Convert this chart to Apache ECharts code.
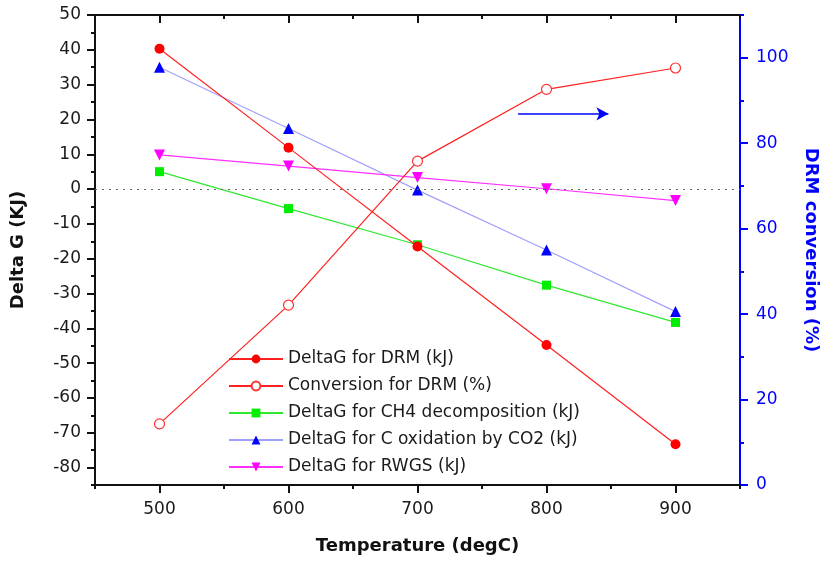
<!DOCTYPE html>
<html>
<head>
<meta charset="utf-8">
<script src="https://cdn.jsdelivr.net/npm/echarts@6/dist/echarts.min.js"></script>
<style>
  html, body { margin: 0; padding: 0; background: #fff; }
  #chart { width: 822px; height: 563px; }
</style>
</head>
<body>
<div id="chart"></div>
<script>
// Temperature points (degC)
const temperatures = [500, 600, 700, 800, 900];

// Gibbs free energy change (kJ), left axis
const deltaGDRM = [40.3, 11.9, -16.5, -44.8, -73.3];
const deltaGCH4 = [5.0, -5.6, -16.0, -27.6, -38.3];
const deltaGCOx = [35.0, 17.4, -0.3, -17.5, -35.2];
const deltaGRWGS = [9.8, 6.6, 3.3, 0.1, -3.3];

// DRM conversion (%), right axis
const conversionDRM = [14.3, 42.1, 75.8, 92.6, 97.6];

// Tick positions
const xMajorTicks = [500, 600, 700, 800, 900];
const xMinorTicks = [450, 550, 650, 750, 850, 950];
const leftMajorTicks = [-80, -70, -60, -50, -40, -30, -20, -10, 0, 10, 20, 30, 40, 50];
const leftMinorTicks = [-85, -75, -65, -55, -45, -35, -25, -15, -5, 5, 15, 25, 35, 45];
const rightMajorTicks = [0, 20, 40, 60, 80, 100];
const rightMinorTicks = [10, 30, 50, 70, 90, 110];

// Arrow pointing to the conversion axis
const arrowY = 21.6;
const arrowFrom = 778;
const arrowTo = 848;

const pair = (ys) => temperatures.map((t, i) => [t, ys[i]]);

const FONT = 'DejaVu Sans';
const BLACK = '#111';
const LABEL = '#1a1a1a';
const BLUE = '#0000ff';

const chart = echarts.init(document.getElementById('chart'), null, { renderer: 'canvas' });

const baseX = { type: 'value', min: 450, max: 950, splitLine: { show: false } };
const leftY = { type: 'value', min: -85, max: 50, splitLine: { show: false } };
const rightY = { type: 'value', min: 0, max: 110, splitLine: { show: false } };

chart.setOption({
  animation: false,
  backgroundColor: '#fff',
  grid: { left: 95, right: 82, top: 15, bottom: 78, containLabel: false, outerBoundsMode: 'none' },
  xAxis: [
    Object.assign({}, baseX, {
      position: 'bottom',
      name: 'Temperature (degC)',
      nameLocation: 'middle',
      nameGap: 52,
      nameTextStyle: { fontFamily: FONT, fontSize: 18, fontWeight: 'bold', color: BLACK },
      axisLine: { onZero: false, lineStyle: { color: BLACK, width: 2 } },
      axisTick: { inside: false, length: 8, lineStyle: { color: BLACK, width: 2 }, customValues: xMajorTicks },
      axisLabel: { customValues: xMajorTicks, margin: 16, fontFamily: FONT, fontSize: 17, color: LABEL }
    }),
    Object.assign({}, baseX, {
      position: 'bottom',
      axisLine: { show: false, onZero: false },
      axisTick: { inside: false, length: 4, lineStyle: { color: BLACK, width: 2 }, customValues: xMinorTicks },
      axisLabel: { show: false }
    }),
    Object.assign({}, baseX, {
      position: 'top',
      axisLine: { onZero: false, lineStyle: { color: BLACK, width: 2 } },
      axisTick: { inside: true, length: 8, lineStyle: { color: BLACK, width: 2 }, customValues: xMajorTicks },
      axisLabel: { show: false }
    }),
    Object.assign({}, baseX, {
      position: 'top',
      axisLine: { show: false, onZero: false },
      axisTick: { inside: true, length: 4, lineStyle: { color: BLACK, width: 2 }, customValues: xMinorTicks },
      axisLabel: { show: false }
    })
  ],
  yAxis: [
    Object.assign({}, leftY, {
      position: 'left',
      name: 'Delta G (KJ)',
      nameLocation: 'middle',
      nameGap: 68,
      nameRotate: 90,
      nameTextStyle: { fontFamily: FONT, fontSize: 18, fontWeight: 'bold', color: BLACK },
      axisLine: { show: true, onZero: false, lineStyle: { color: BLACK, width: 2 } },
      axisTick: { show: true, inside: false, length: 8, lineStyle: { color: BLACK, width: 2 }, customValues: leftMajorTicks },
      axisLabel: { customValues: leftMajorTicks, margin: 14, fontFamily: FONT, fontSize: 17, color: LABEL }
    }),
    Object.assign({}, leftY, {
      position: 'left',
      axisLine: { show: false, onZero: false },
      axisTick: { show: true, inside: false, length: 4, lineStyle: { color: BLACK, width: 2 }, customValues: leftMinorTicks },
      axisLabel: { show: false }
    }),
    Object.assign({}, rightY, {
      position: 'right',
      name: 'DRM conversion (%)',
      nameLocation: 'middle',
      nameGap: 62,
      nameRotate: -90,
      nameTextStyle: { fontFamily: FONT, fontSize: 18, fontWeight: 'bold', color: BLUE },
      axisLine: { show: true, onZero: false, lineStyle: { color: BLUE, width: 2 } },
      axisTick: { show: true, inside: false, length: 8, lineStyle: { color: BLUE, width: 2 }, customValues: rightMajorTicks },
      axisLabel: { customValues: rightMajorTicks, margin: 16, fontFamily: FONT, fontSize: 17, color: BLUE }
    }),
    Object.assign({}, rightY, {
      position: 'right',
      axisLine: { show: false, onZero: false },
      axisTick: { show: true, inside: false, length: 4, lineStyle: { color: BLUE, width: 2 }, customValues: rightMinorTicks },
      axisLabel: { show: false }
    })
  ],
  legend: {
    orient: 'vertical',
    left: 223,
    top: 344,
    itemWidth: 54,
    itemHeight: 11,
    itemGap: 7,
    textStyle: { fontFamily: FONT, fontSize: 17, color: LABEL, lineHeight: 20 },
    data: [
      'DeltaG for DRM (kJ)',
      'Conversion for DRM (%)',
      'DeltaG for CH4 decomposition (kJ)',
      'DeltaG for C oxidation by CO2 (kJ)',
      'DeltaG for RWGS (kJ)'
    ]
  },
  series: [
    {
      name: 'DeltaG for DRM (kJ)',
      type: 'line',
      xAxisIndex: 0, yAxisIndex: 0,
      data: pair(deltaGDRM),
      symbol: 'circle', symbolSize: 10,
      lineStyle: { color: '#ff2020', width: 1.2 },
      itemStyle: { color: '#ff0000' },
      z: 5,
      markLine: {
        silent: true,
        symbol: ['none', 'arrow'],
        symbolSize: [10, 12],
        label: { show: false },
        lineStyle: { color: BLUE, width: 1.5, type: 'solid' },
        data: [[{ coord: [arrowFrom, arrowY] }, { coord: [arrowTo, arrowY] }]]
      }
    },
    {
      name: 'Conversion for DRM (%)',
      type: 'line',
      xAxisIndex: 0, yAxisIndex: 2,
      data: pair(conversionDRM),
      symbol: 'circle', symbolSize: 10,
      showSymbol: true,
      lineStyle: { color: '#ff2020', width: 1.2 },
      itemStyle: { color: '#fff', borderColor: '#ff3030', borderWidth: 1.2 },
      z: 4
    },
    {
      name: 'DeltaG for CH4 decomposition (kJ)',
      type: 'line',
      xAxisIndex: 0, yAxisIndex: 0,
      data: pair(deltaGCH4),
      symbol: 'rect', symbolSize: 9,
      lineStyle: { color: '#30e830', width: 1.2 },
      itemStyle: { color: '#00ee00' },
      z: 3,
      markLine: {
        silent: true,
        symbol: 'none',
        label: { show: false },
        lineStyle: { color: '#666', width: 1.2, type: [2, 5] },
        data: [{ yAxis: 0 }]
      }
    },
    {
      name: 'DeltaG for C oxidation by CO2 (kJ)',
      type: 'line',
      xAxisIndex: 0, yAxisIndex: 0,
      data: pair(deltaGCOx),
      symbol: 'triangle', symbolSize: 11,
      lineStyle: { color: '#a0a0ff', width: 1.2 },
      itemStyle: { color: '#0000ff' },
      z: 3
    },
    {
      name: 'DeltaG for RWGS (kJ)',
      type: 'line',
      xAxisIndex: 0, yAxisIndex: 0,
      data: pair(deltaGRWGS),
      symbol: 'triangle', symbolSize: 11, symbolRotate: 180,
      lineStyle: { color: '#ff30ff', width: 1.2 },
      itemStyle: { color: '#ff00ff' },
      z: 3
    }
  ]
});
</script>
</body>
</html>
